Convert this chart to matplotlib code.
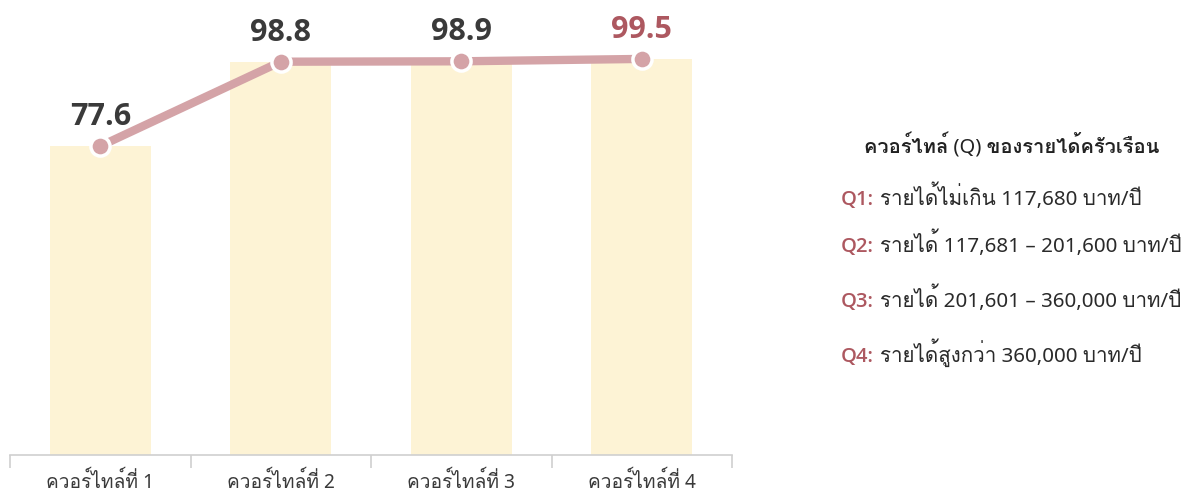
import matplotlib
matplotlib.use("Agg")
import matplotlib.pyplot as plt
from matplotlib import font_manager as fm
from matplotlib.ft2font import FT2Font
import numpy as np

# data
categories = ["ควอร์ไทล์ที่ 1", "ควอร์ไทล์ที่ 2", "ควอร์ไทล์ที่ 3", "ควอร์ไทล์ที่ 4"]
values = [77.6, 98.8, 98.9, 99.5]
legend_title = "ควอร์ไทล์ (Q) ของรายได้ครัวเรือน"
legend_keys = ["Q1:", "Q2:", "Q3:", "Q4:"]
legend_texts = [
    "รายได้ไม่เกิน 117,680 บาท/ปี",
    "รายได้ 117,681 – 201,600 บาท/ปี",
    "รายได้ 201,601 – 360,000 บาท/ปี",
    "รายได้สูงกว่า 360,000 บาท/ปี",
]

# look for any installed font that has thai glyphs
thai_font = None
for f in fm.fontManager.ttflist:
    try:
        if FT2Font(f.fname).get_char_index(0x0E04):
            thai_font = f.name
            break
    except Exception:
        pass
families = ["Noto Sans", "DejaVu Sans"]
if thai_font:
    families.insert(1, thai_font)
plt.rcParams["font.family"] = families

bar_color = "#fdf3d5"
line_color = "#d4a3a7"
dark = "#3a3a3a"
red = "#ad5860"

fig = plt.figure(figsize=(11.92, 4.97), dpi=100)
ax = fig.add_axes([0.0084, 0.0845, 0.6057, 0.9155])

x = np.arange(len(categories))
ax.bar(x, values, width=0.56, color=bar_color, zorder=1)
ax.plot(x, values, color=line_color, lw=6, zorder=2, solid_capstyle="round")
ax.scatter(x, values, s=190, color=line_color, edgecolor="white", linewidth=2.5, zorder=3)

for i, v in enumerate(values):
    ax.annotate(f"{v}", (x[i], v), xytext=(0, 10), textcoords="offset points",
                ha="center", va="bottom", fontsize=22, fontweight="bold",
                family=["Open Sans", "DejaVu Sans"],
                color=red if i == len(values) - 1 else dark)

ax.set_xlim(-0.5, len(categories) - 0.5)
ax.set_ylim(0, 114.3)
for s in ["top", "right", "left"]:
    ax.spines[s].set_visible(False)
ax.spines["bottom"].set_color("#cfcfcf")
ax.spines["bottom"].set_linewidth(1.2)
ax.set_yticks([])
ax.set_xticks(np.arange(-0.5, len(categories)), minor=False)
ax.set_xticklabels([])
ax.tick_params(axis="x", length=9, color="#cfcfcf", width=1.2)
ax.set_xticks(x, minor=True)
ax.set_xticklabels(categories, minor=True, fontsize=13.8, color=dark)
ax.tick_params(axis="x", which="minor", length=0, pad=12)

# legend text on the right
fig.text(1012 / 1192, 1 - 146 / 497, legend_title, ha="center", va="center",
         fontsize=14.5, fontweight="bold", color="#222222")
ys = [205, 252, 307, 362]
for k, t, yy in zip(legend_keys, legend_texts, ys):
    fig.text(841 / 1192, 1 - yy / 497, k, ha="left", va="baseline",
             fontsize=14.5, color=red, fontweight="semibold",
             family=["Open Sans", "DejaVu Sans"])
    fig.text(880 / 1192, 1 - yy / 497, t, ha="left", va="baseline",
             fontsize=14.8, color="#2a2a2a")

fig.savefig("out.png", dpi=100)
